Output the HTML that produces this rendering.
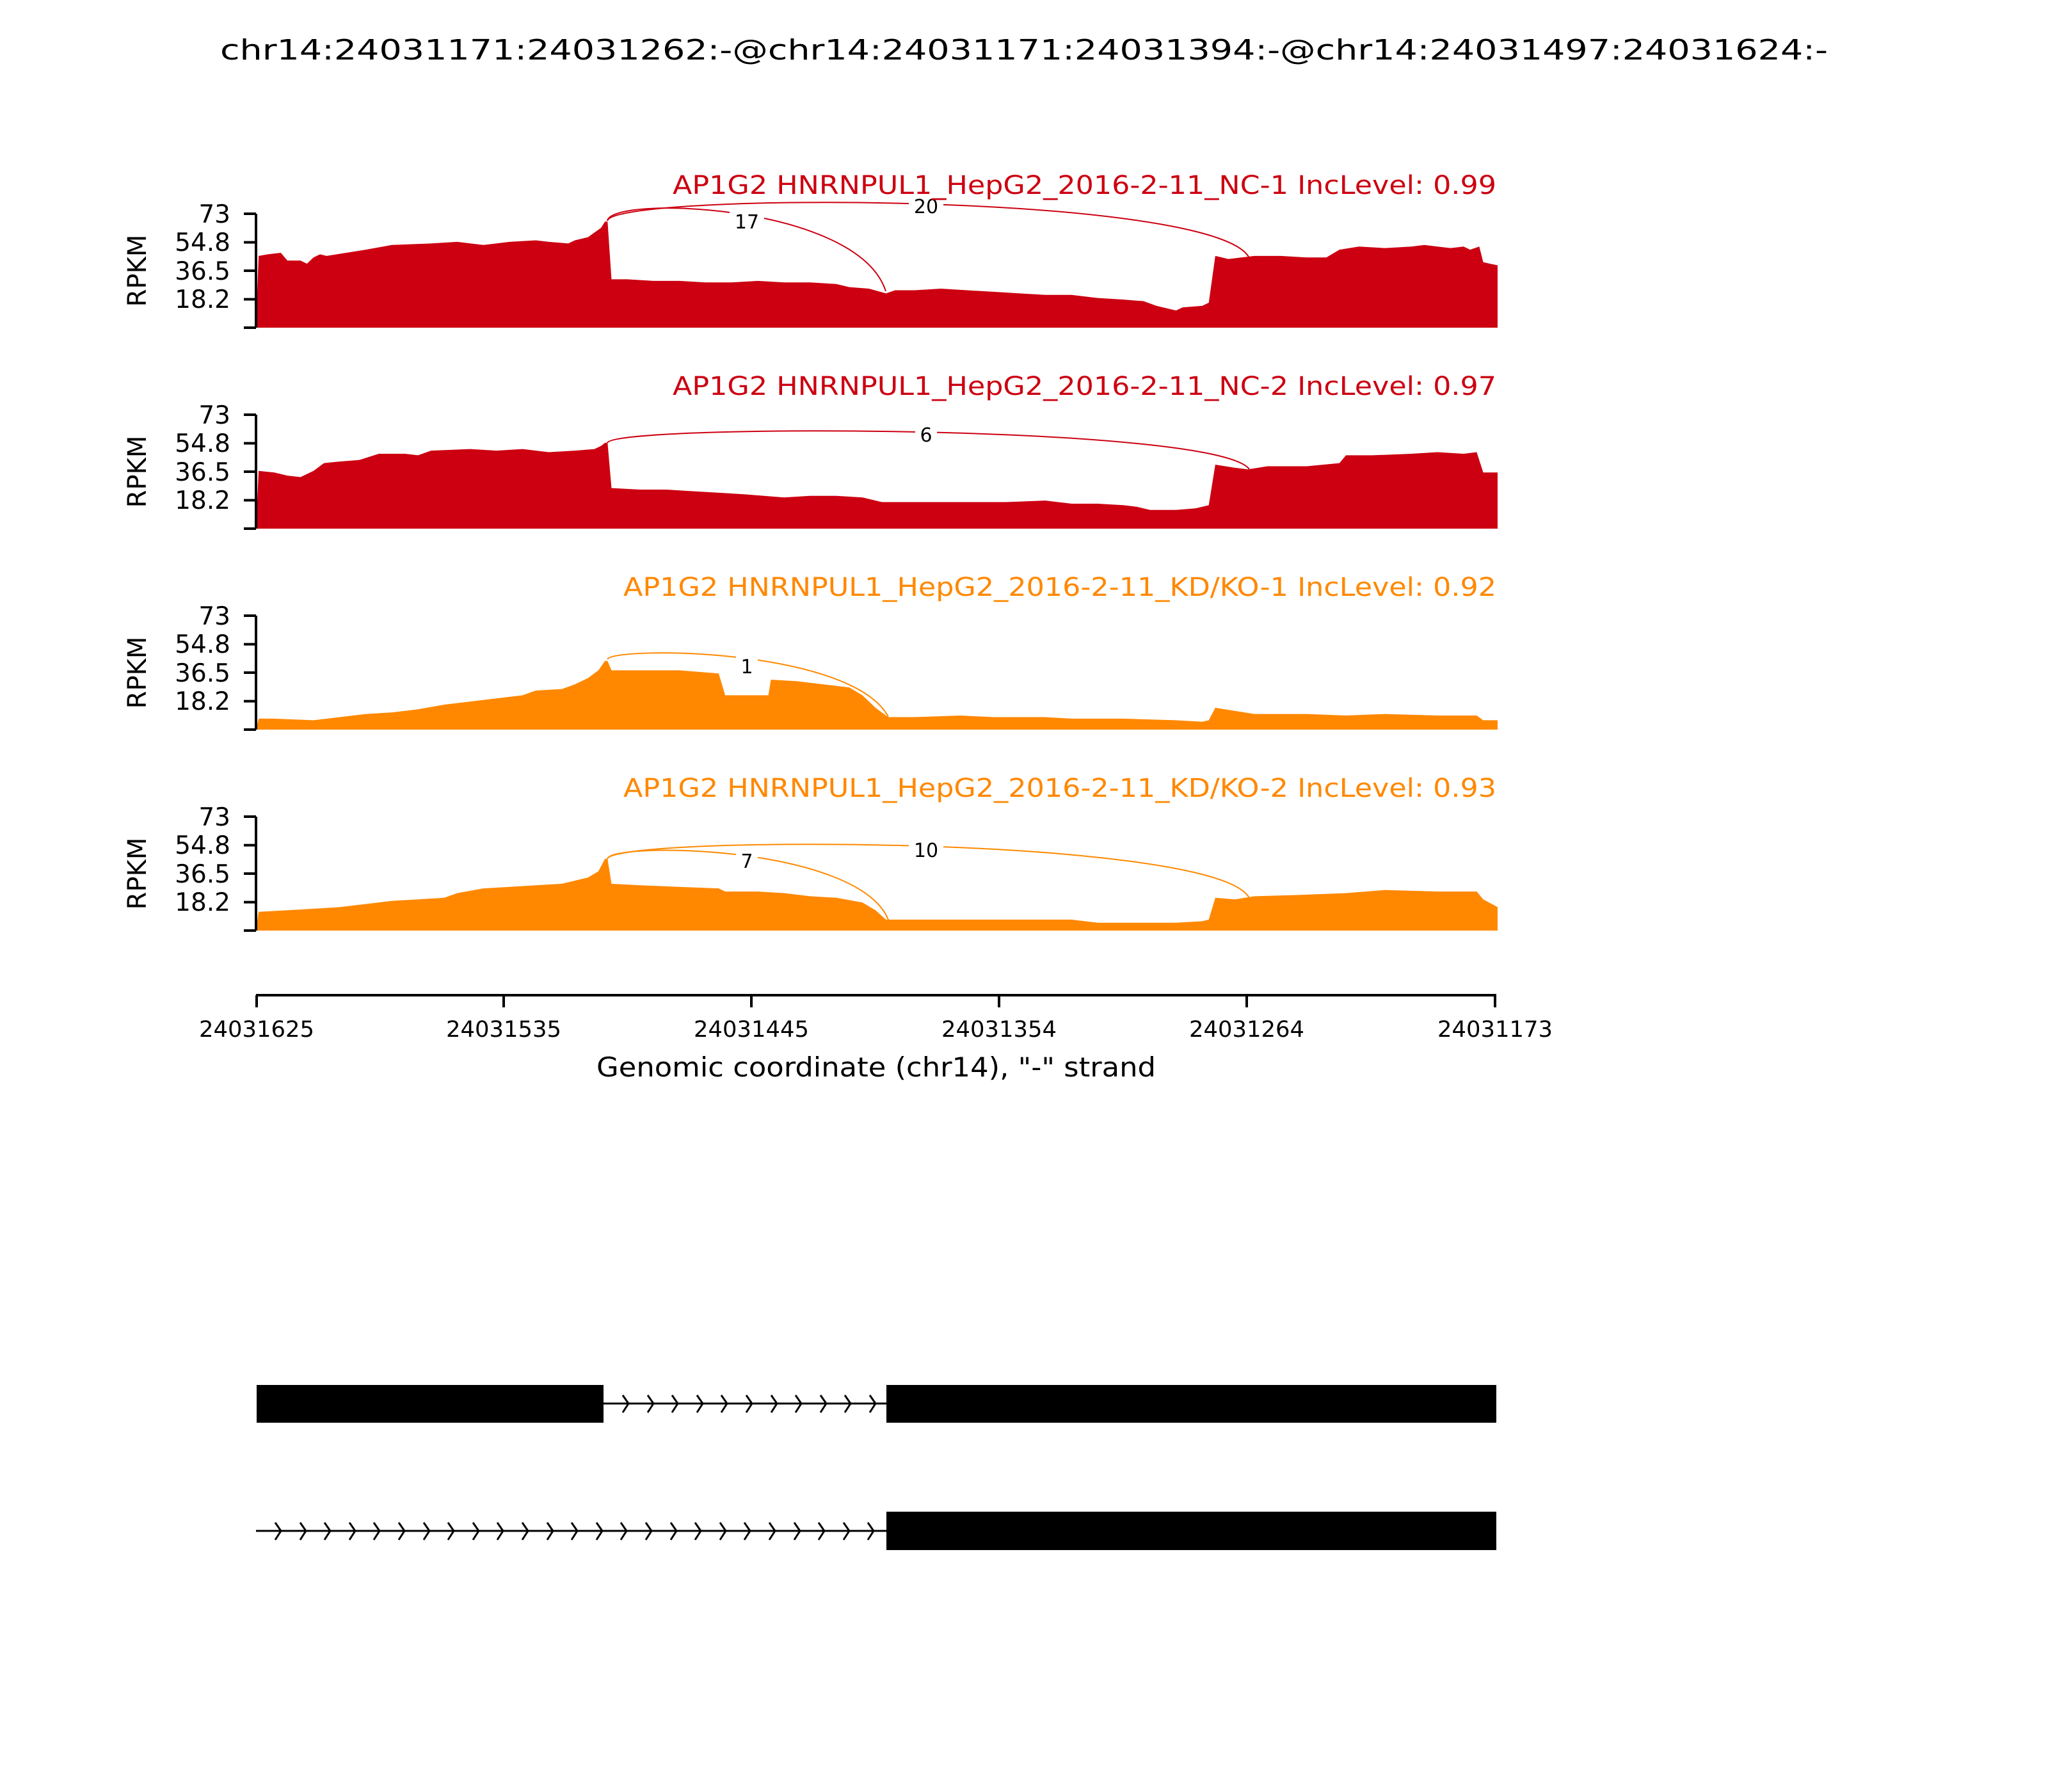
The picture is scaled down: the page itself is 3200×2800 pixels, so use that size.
<!DOCTYPE html>
<html><head><meta charset="utf-8"><style>
html,body{margin:0;padding:0;background:#fff;}
svg{display:block;}
text{font-family:"DejaVu Sans","Liberation Sans",sans-serif;}
</style></head><body>
<svg width="3200" height="2800" viewBox="0 0 3200 2800" xmlns="http://www.w3.org/2000/svg">
<rect width="3200" height="2800" fill="#fff"/>
<text x="1600" y="93" font-size="44" text-anchor="middle" textLength="2512" lengthAdjust="spacingAndGlyphs">chr14:24031171:24031262:-@chr14:24031171:24031394:-@chr14:24031497:24031624:-</text>

<!-- Panel 1 -->
<g transform="matrix(2.0421 0 0 -2.438 -0.25 512)">
<polygon fill="#cc0011" points="196,0 198,46 205,47 215,48 220,43 230,43 235,41 240,45 245,47 250,46 265,48 280,50 300,53 330,54 350,55 370,53 390,55 410,56 420,55 435,54 440,56 450,58 455,61 460,64 463,68 465,68 468,31 480,31 500,30 520,30 540,29 560,29 580,30 600,29 620,29 640,28 650,26 665,25 678,22 685,24 700,24 720,25 740,24 760,23 780,22 800,21 820,21 840,19 860,18 875,17 885,14 895,12 900,11 905,13 920,14 925,16 930,46 940,44 950,45 960,46 980,46 1000,45 1015,45 1025,50 1040,52 1060,51 1080,52 1090,53 1100,52 1110,51 1120,52 1125,50 1132,52 1135,42 1140,41 1146,40 1146,0"/>
</g>
<!-- Panel 2 -->
<g transform="matrix(2.0421 0 0 -2.438 -0.25 826)">
<polygon fill="#cc0011" points="196,0 198,37 210,36 220,34 230,33 240,37 248,42 260,43 275,44 290,48 310,48 320,47 330,50 360,51 380,50 400,51 420,49 440,50 455,51 460,53 463,55 465,55 468,26 490,25 510,25 530,24 550,23 570,22 600,20 620,21 640,21 660,20 675,17 700,17 740,17 770,17 800,18 820,16 840,16 860,15 870,14 880,12 900,12 915,13 925,15 930,41 945,39 955,38 970,40 1000,40 1025,42 1030,47 1050,47 1080,48 1100,49 1120,48 1130,49 1135,36 1146,36 1146,0"/>
</g>
<!-- Panel 3 -->
<g transform="matrix(2.0421 0 0 -2.438 -0.25 1140)">
<polygon fill="#ff8800" points="196,0 198,7 210,7 240,6 260,8 280,10 300,11 320,13 340,16 360,18 380,20 400,22 410,25 430,26 440,29 450,33 458,38 463,44 465,44 468,38 490,38 520,38 550,36 555,22 588,22 590,32 610,31 630,29 650,27 660,22 670,14 678,9 680,8 700,8 735,9 760,8 800,8 820,7 860,7 900,6 920,5 925,6 930,14 945,12 960,10 1000,10 1030,9 1060,10 1100,9 1130,9 1135,6 1146,6 1146,0"/>
</g>
<!-- Panel 4 -->
<g transform="matrix(2.0421 0 0 -2.438 -0.25 1454)">
<polygon fill="#ff8800" points="196,0 198,12 220,13 240,14 260,15 280,17 300,19 320,20 340,21 350,24 370,27 390,28 410,29 430,30 440,32 450,34 458,38 463,46 465,46 468,30 490,29 520,28 550,27 555,25 580,25 600,24 620,22 640,21 660,18 670,13 678,7 700,7 740,7 780,7 820,7 840,5 870,5 900,5 920,6 925,7 930,21 945,20 960,22 1000,23 1030,24 1060,26 1100,25 1130,25 1135,20 1146,15 1146,0"/>
</g>

<!-- Arcs -->
<g fill="none" stroke-width="2">
<path d="M949,345 C955,305 1340,318 1384,455" stroke="#cc0011"/>
<path d="M949,345 C960,300 1900,300 1952,403" stroke="#cc0011"/>
<path d="M949,692 C960,662 1900,663 1952,733" stroke="#cc0011"/>
<path d="M949,1030 C960,1010 1330,1012 1388,1120" stroke="#ff8800"/>
<path d="M949,1342 C955,1315 1340,1320 1388,1437" stroke="#ff8800"/>
<path d="M949,1342 C960,1305 1900,1305 1952,1403" stroke="#ff8800"/>
</g>
<g font-size="30" text-anchor="middle">
<rect x="1140" y="329" width="54" height="34" fill="#fff"/><text x="1167" y="357">17</text>
<rect x="1420" y="305" width="54" height="34" fill="#fff"/><text x="1447" y="333">20</text>
<rect x="1430" y="663" width="34" height="34" fill="#fff"/><text x="1447" y="690">6</text>
<rect x="1150" y="1024" width="34" height="34" fill="#fff"/><text x="1167" y="1052">1</text>
<rect x="1150" y="1328" width="34" height="34" fill="#fff"/><text x="1167" y="1356">7</text>
<rect x="1420" y="1311" width="54" height="34" fill="#fff"/><text x="1447" y="1339">10</text>
</g>

<!-- Panel titles -->
<g font-size="40" text-anchor="end">
<text x="2338" y="303" fill="#cc0011" textLength="1287" lengthAdjust="spacingAndGlyphs">AP1G2 HNRNPUL1_HepG2_2016-2-11_NC-1 IncLevel: 0.99</text>
<text x="2338" y="617" fill="#cc0011" textLength="1287" lengthAdjust="spacingAndGlyphs">AP1G2 HNRNPUL1_HepG2_2016-2-11_NC-2 IncLevel: 0.97</text>
<text x="2338" y="931" fill="#ff8800" textLength="1364" lengthAdjust="spacingAndGlyphs">AP1G2 HNRNPUL1_HepG2_2016-2-11_KD/KO-1 IncLevel: 0.92</text>
<text x="2338" y="1245" fill="#ff8800" textLength="1364" lengthAdjust="spacingAndGlyphs">AP1G2 HNRNPUL1_HepG2_2016-2-11_KD/KO-2 IncLevel: 0.93</text>
</g>

<!-- Y axes -->
<g id="yax" stroke="#000" stroke-width="4">
<line x1="400" y1="334" x2="400" y2="512"/>
<line x1="381" y1="334" x2="400" y2="334"/><line x1="381" y1="378.6" x2="400" y2="378.6"/><line x1="381" y1="423" x2="400" y2="423"/><line x1="381" y1="467.6" x2="400" y2="467.6"/><line x1="381" y1="512" x2="400" y2="512"/>
</g>
<use href="#yax" transform="translate(0,314)"/>
<use href="#yax" transform="translate(0,628)"/>
<use href="#yax" transform="translate(0,942)"/>
<g id="ylab" font-size="39" text-anchor="end">
<text x="360" y="348">73</text><text x="360" y="392">54.8</text><text x="360" y="437">36.5</text><text x="360" y="481">18.2</text>
<text transform="translate(228,423) rotate(-90)" text-anchor="middle" font-size="40">RPKM</text>
</g>
<use href="#ylab" transform="translate(0,314)"/>
<use href="#ylab" transform="translate(0,628)"/>
<use href="#ylab" transform="translate(0,942)"/>

<!-- X axis -->
<g stroke="#000" stroke-width="4">
<line x1="400" y1="1555" x2="2338" y2="1555"/>
<line x1="401" y1="1555" x2="401" y2="1574"/><line x1="787" y1="1555" x2="787" y2="1574"/><line x1="1174" y1="1555" x2="1174" y2="1574"/><line x1="1561" y1="1555" x2="1561" y2="1574"/><line x1="1948" y1="1555" x2="1948" y2="1574"/><line x1="2336" y1="1555" x2="2336" y2="1574"/>
</g>
<g font-size="35" text-anchor="middle">
<text x="401" y="1620" textLength="180" lengthAdjust="spacingAndGlyphs">24031625</text><text x="787" y="1620" textLength="180" lengthAdjust="spacingAndGlyphs">24031535</text><text x="1174" y="1620" textLength="180" lengthAdjust="spacingAndGlyphs">24031445</text><text x="1561" y="1620" textLength="180" lengthAdjust="spacingAndGlyphs">24031354</text><text x="1948" y="1620" textLength="180" lengthAdjust="spacingAndGlyphs">24031264</text><text x="2336" y="1620" textLength="180" lengthAdjust="spacingAndGlyphs">24031173</text>
</g>
<text x="1369" y="1682" font-size="42" text-anchor="middle" textLength="874" lengthAdjust="spacingAndGlyphs">Genomic coordinate (chr14), "-" strand</text>

<!-- Gene models -->
<rect x="401" y="2164" width="542" height="59" fill="#000"/>
<line x1="943" y1="2193" x2="1385" y2="2193" stroke="#000" stroke-width="3"/>
<rect x="1385" y="2164" width="953" height="59" fill="#000"/>
<line x1="400" y1="2392" x2="1385" y2="2392" stroke="#000" stroke-width="3"/>
<rect x="1385" y="2362" width="953" height="60" fill="#000"/>
<g fill="none" stroke="#000" stroke-width="3">
<path d="M973,2180 l9,13 l-9,14 M1012,2180 l9,13 l-9,14 M1050,2180 l9,13 l-9,14 M1089,2180 l9,13 l-9,14 M1127,2180 l9,13 l-9,14 M1166,2180 l9,13 l-9,14 M1205,2180 l9,13 l-9,14 M1243,2180 l9,13 l-9,14 M1282,2180 l9,13 l-9,14 M1320,2180 l9,13 l-9,14 M1359,2180 l9,13 l-9,14"/>
<path d="M430,2379 l9,13 l-9,14 M469,2379 l9,13 l-9,14 M507,2379 l9,13 l-9,14 M546,2379 l9,13 l-9,14 M584,2379 l9,13 l-9,14 M623,2379 l9,13 l-9,14 M662,2379 l9,13 l-9,14 M700,2379 l9,13 l-9,14 M739,2379 l9,13 l-9,14 M777,2379 l9,13 l-9,14 M816,2379 l9,13 l-9,14 M855,2379 l9,13 l-9,14 M893,2379 l9,13 l-9,14 M932,2379 l9,13 l-9,14 M970,2379 l9,13 l-9,14 M1009,2379 l9,13 l-9,14 M1048,2379 l9,13 l-9,14 M1086,2379 l9,13 l-9,14 M1125,2379 l9,13 l-9,14 M1163,2379 l9,13 l-9,14 M1202,2379 l9,13 l-9,14 M1241,2379 l9,13 l-9,14 M1279,2379 l9,13 l-9,14 M1318,2379 l9,13 l-9,14 M1356,2379 l9,13 l-9,14"/>
</g>
</svg>
</body></html>
